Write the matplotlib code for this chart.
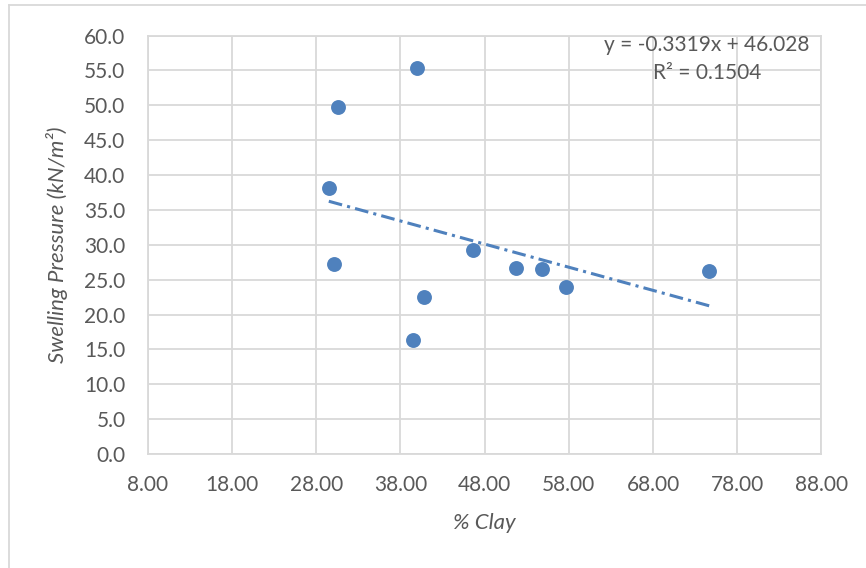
import numpy as np
import matplotlib
matplotlib.use("Agg")
import matplotlib.pyplot as plt
from matplotlib.lines import Line2D

# data
clay = [40.0, 30.6, 29.5, 30.1, 39.5, 40.8, 46.6, 51.7, 54.8, 57.7, 74.7]
swell = [55.3, 49.8, 38.2, 27.3, 16.3, 22.5, 29.2, 26.6, 26.5, 24.0, 26.3]

# trendline shown in the chart
slope = -0.3319
intercept = 46.028
r2 = 0.1504

x_ticks = [8, 18, 28, 38, 48, 58, 68, 78, 88]
y_ticks = [0, 5, 10, 15, 20, 25, 30, 35, 40, 45, 50, 55, 60]

plt.rcParams['font.family'] = ['Lato', 'DejaVu Sans']
txt = '#595959'
grid = '#d9d9d9'
blue = '#4F81BD'

fig = plt.figure(figsize=(8.66, 5.68), dpi=100)
ax = fig.add_axes([0.1706, 0.2007, 0.778, 0.7368])

ax.scatter(clay, swell, s=115, color=blue, zorder=3, linewidths=0)

# linear trendline over the data range
xs = np.array([min(clay), max(clay)])
ax.plot(xs, slope * xs + intercept, color=blue, lw=2.2,
        dashes=(4.5, 1.7, 1, 1.7), dash_capstyle='butt', zorder=2)

ax.set_xlim(8, 88)
ax.set_ylim(0, 60)
ax.set_xticks(x_ticks)
ax.set_yticks(y_ticks)
ax.set_xticklabels(["%.2f" % v for v in x_ticks])
ax.set_yticklabels(["%.1f" % v for v in y_ticks])
ax.tick_params(length=0, labelsize=15, colors=txt)
ax.tick_params(axis='x', pad=15)
ax.tick_params(axis='y', pad=16)
ax.grid(True, color=grid, lw=1.3)
ax.set_axisbelow(True)
for sp in ax.spines.values():
    sp.set_color(grid)
    sp.set_linewidth(1.3)

ax.set_xlabel("% Clay", fontsize=16, style='italic', color=txt, labelpad=13)
ax.set_ylabel("Swelling Pressure (kN/m²)", fontsize=16, style='italic', color=txt, labelpad=12)

ax.text(0.83, 0.977, "y = %.4fx + %.3f" % (slope, intercept), transform=ax.transAxes,
        ha='center', va='center', fontsize=15, color=txt)
ax.text(0.83, 0.910, "R² = %.4f" % r2, transform=ax.transAxes,
        ha='center', va='center', fontsize=15, color=txt)

# chart area border (left and top edges visible)
fig.add_artist(Line2D([9 / 866, 9 / 866], [0, 1 - 5 / 568], transform=fig.transFigure, color=grid, lw=1.3))
fig.add_artist(Line2D([9 / 866, 1], [1 - 5 / 568, 1 - 5 / 568], transform=fig.transFigure, color=grid, lw=1.3))

fig.savefig("out.png", dpi=100)
